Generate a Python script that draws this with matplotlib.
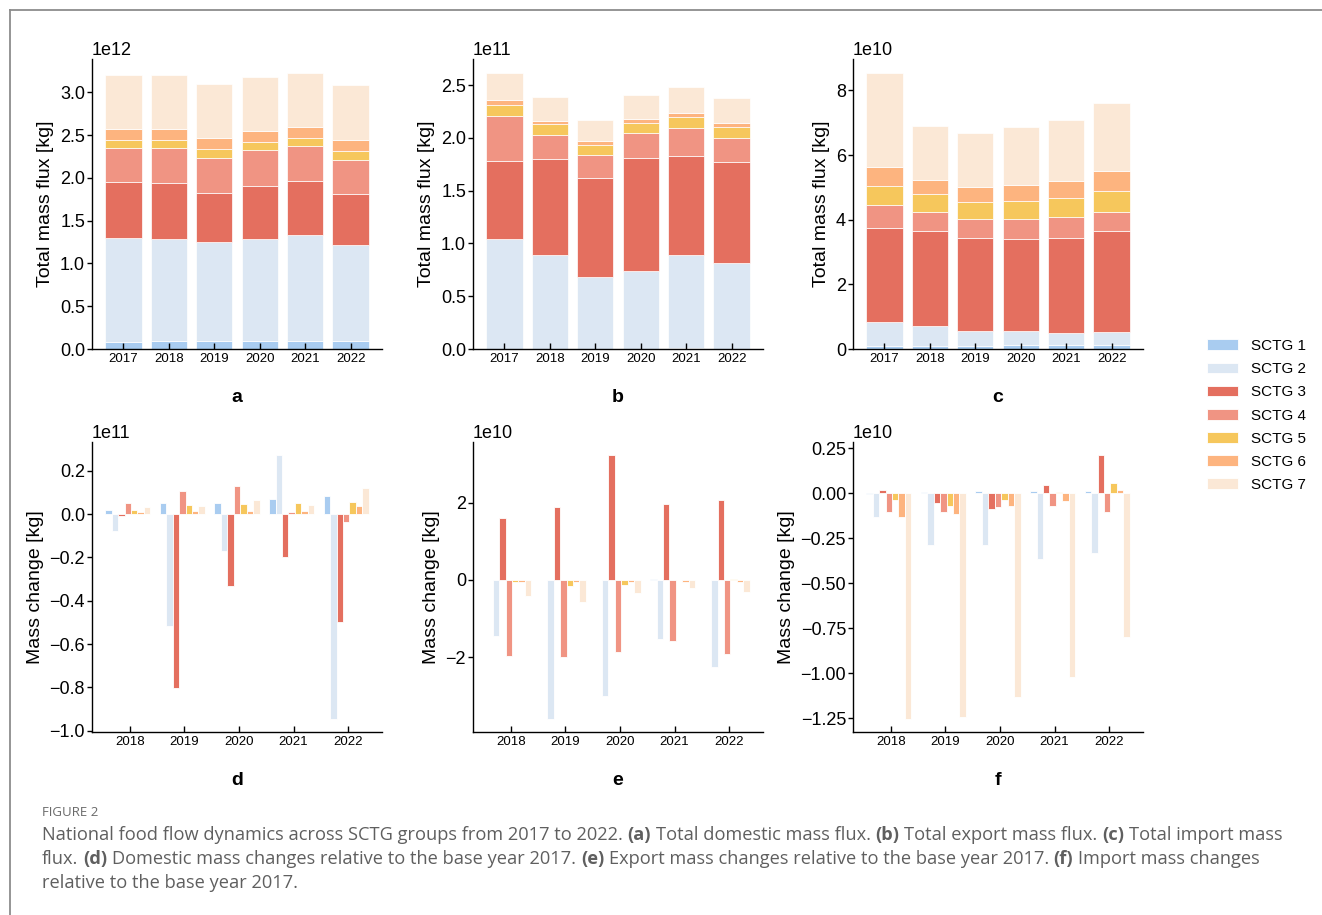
import numpy as np
import matplotlib
matplotlib.use("Agg")
import matplotlib.pyplot as plt
from matplotlib.ticker import MultipleLocator
from matplotlib.patches import Patch
from matplotlib.lines import Line2D

# ---------------- data ----------------
years_total = ["2017", "2018", "2019", "2020", "2021", "2022"]
years_change = ["2018", "2019", "2020", "2021", "2022"]
groups = ["SCTG 1", "SCTG 2", "SCTG 3", "SCTG 4", "SCTG 5", "SCTG 6", "SCTG 7"]
colors = ["#A9CCF0", "#DCE7F3", "#E46F5F", "#F09483", "#F6C75C", "#FDB47F", "#FBE8D6"]

# rows: SCTG 1..7, columns: years (units shown by scale)
domestic_total = [  # x 1e12 kg
    [0.086, 0.088, 0.091, 0.091, 0.093, 0.094],
    [1.211, 1.203, 1.159, 1.194, 1.238, 1.117],
    [0.651, 0.650, 0.571, 0.618, 0.631, 0.601],
    [0.405, 0.410, 0.416, 0.418, 0.406, 0.401],
    [0.094, 0.096, 0.098, 0.099, 0.099, 0.100],
    [0.128, 0.129, 0.130, 0.130, 0.130, 0.132],
    [0.628, 0.632, 0.632, 0.635, 0.632, 0.640],
]
export_total = [  # x 1e11 kg
    [0.003, 0.003, 0.003, 0.003, 0.005, 0.003],
    [1.035, 0.890, 0.676, 0.736, 0.883, 0.811],
    [0.748, 0.908, 0.937, 1.070, 0.944, 0.954],
    [0.423, 0.226, 0.225, 0.237, 0.266, 0.231],
    [0.105, 0.101, 0.090, 0.092, 0.104, 0.108],
    [0.041, 0.037, 0.037, 0.037, 0.037, 0.037],
    [0.262, 0.222, 0.206, 0.229, 0.240, 0.232],
]
import_total = [  # x 1e10 kg
    [0.103, 0.099, 0.107, 0.114, 0.114, 0.114],
    [0.743, 0.610, 0.456, 0.456, 0.376, 0.412],
    [2.911, 2.928, 2.857, 2.824, 2.957, 3.122],
    [0.702, 0.595, 0.596, 0.624, 0.628, 0.596],
    [0.589, 0.552, 0.520, 0.552, 0.593, 0.646],
    [0.588, 0.458, 0.473, 0.516, 0.544, 0.605],
    [2.911, 1.657, 1.668, 1.780, 1.889, 2.109],
]
domestic_change = [  # x 1e11 kg
    [0.020, 0.052, 0.051, 0.072, 0.082],
    [-0.077, -0.518, -0.172, 0.272, -0.945],
    [-0.011, -0.803, -0.334, -0.200, -0.500],
    [0.052, 0.106, 0.132, 0.008, -0.038],
    [0.017, 0.040, 0.048, 0.051, 0.057],
    [0.009, 0.015, 0.015, 0.015, 0.038],
    [0.035, 0.038, 0.066, 0.043, 0.120],
]
export_change = [  # x 1e10 kg
    [0.005, 0.005, 0.005, 0.020, 0.005],
    [-1.448, -3.586, -2.991, -1.517, -2.240],
    [1.603, 1.888, 3.224, 1.957, 2.060],
    [-1.966, -1.983, -1.862, -1.569, -1.922],
    [-0.040, -0.147, -0.130, -0.010, 0.026],
    [-0.040, -0.040, -0.040, -0.040, -0.040],
    [-0.405, -0.560, -0.328, -0.216, -0.300],
]
import_change = [  # x 1e10 kg
    [-0.004, 0.004, 0.011, 0.011, 0.011],
    [-0.133, -0.287, -0.287, -0.367, -0.331],
    [0.017, -0.054, -0.087, 0.046, 0.211],
    [-0.107, -0.106, -0.078, -0.074, -0.106],
    [-0.037, -0.069, -0.037, 0.004, 0.057],
    [-0.130, -0.115, -0.072, -0.044, 0.017],
    [-1.254, -1.243, -1.131, -1.022, -0.802],
]

# ---------------- style ----------------
plt.rcParams["font.family"] = ["Liberation Sans", "DejaVu Sans"]
W, H = 1322, 915
fig = plt.figure(figsize=(W / 100, H / 100), dpi=100)


def rect(left, top, right, bottom):
    return [left / W, 1 - bottom / H, (right - left) / W, (bottom - top) / H]


lefts = [92, 473, 853]
top_axes = [fig.add_axes(rect(l, 59, l + 290, 349)) for l in lefts]
bot_axes = [fig.add_axes(rect(l, 442, l + 290, 732)) for l in lefts]


def style(ax, ylabel, letter):
    for s in ["top", "right"]:
        ax.spines[s].set_visible(False)
    for s in ["left", "bottom"]:
        ax.spines[s].set_linewidth(1.0)
    ax.tick_params(axis="x", direction="in", length=4, width=1, labelsize=9.5, pad=3)
    ax.tick_params(axis="y", direction="out", length=3.5, width=1, labelsize=13, pad=1.5)
    ax.yaxis.get_offset_text().set_fontsize(13)
    ax.set_ylabel(ylabel, fontsize=14)
    ax.text(0.5, -0.166, letter, transform=ax.transAxes, ha="center", va="center",
            fontsize=14, fontweight="bold")


def stacked(ax, data, scale, years):
    x = np.arange(len(years))
    data = np.array(data) * scale
    bottom = np.zeros(len(years))
    for i, row in enumerate(data):
        ax.bar(x, row, bottom=bottom, width=0.8, color=colors[i],
               edgecolor="white", linewidth=0.5)
        bottom += row
    ax.set_xticks(x)
    ax.set_xticklabels(years)


def grouped(ax, data, scale, years):
    x = np.arange(len(years))
    data = np.array(data) * scale
    w = 0.118
    for i, row in enumerate(data):
        ax.bar(x + (i - 3) * w - 0.036, row, width=w, color=colors[i],
               edgecolor="white", linewidth=0.6)
    ax.set_xticks(x)
    ax.set_xticklabels(years)


stacked(top_axes[0], domestic_total, 1e12, years_total)
stacked(top_axes[1], export_total, 1e11, years_total)
stacked(top_axes[2], import_total, 1e10, years_total)
grouped(bot_axes[0], domestic_change, 1e11, years_change)
grouped(bot_axes[1], export_change, 1e10, years_change)
grouped(bot_axes[2], import_change, 1e10, years_change)

top_axes[0].yaxis.set_major_locator(MultipleLocator(0.5e12))
top_axes[1].yaxis.set_major_locator(MultipleLocator(0.5e11))
top_axes[2].yaxis.set_major_locator(MultipleLocator(2e10))
bot_axes[0].yaxis.set_major_locator(MultipleLocator(0.2e11))
bot_axes[1].yaxis.set_major_locator(MultipleLocator(2e10))
bot_axes[2].yaxis.set_major_locator(MultipleLocator(0.25e10))

for ax, let in zip(top_axes, "abc"):
    style(ax, "Total mass flux [kg]", let)
for ax, let in zip(bot_axes, "def"):
    style(ax, "Mass change [kg]", let)

# legend
handles = [Patch(facecolor=c, edgecolor="white", linewidth=0.6) for c in colors]
fig.legend(handles, groups, loc="center left", bbox_to_anchor=(1207 / W, 1 - 415.6 / H),
           frameon=False, fontsize=11, handlelength=2.0, handleheight=0.7,
           labelspacing=0.6, handletextpad=0.9, borderpad=0, borderaxespad=0)

# frame lines
fig.add_artist(Line2D([10 / W, 1], [1 - 10 / H, 1 - 10 / H], color="#8c8c8c", lw=1.3,
                      transform=fig.transFigure))
fig.add_artist(Line2D([10 / W, 10 / W], [0, 1 - 10 / H], color="#8c8c8c", lw=1.3,
                      transform=fig.transFigure))

# caption
cap_font = ["Open Sans", "DejaVu Sans"]
cap_color = "#5f5f5f"
renderer = fig.canvas.get_renderer()
fig.text(42 / W, 1 - 816 / H, "FIGURE 2", fontsize=9.5, color="#6a6a6a", family=cap_font,
         va="baseline", ha="left")

lines = [
    [("National food flow dynamics across SCTG groups from 2017 to 2022.", False),
     ("(a)", True), ("Total domestic mass flux.", False), ("(b)", True),
     ("Total export mass flux.", False), ("(c)", True), ("Total import mass", False)],
    [("flux.", False), ("(d)", True),
     ("Domestic mass changes relative to the base year 2017.", False), ("(e)", True),
     ("Export mass changes relative to the base year 2017.", False), ("(f)", True),
     ("Import mass changes", False)],
    [("relative to the base year 2017.", False)],
]
baselines = [840, 864, 888]


def measure(txt, size, bold):
    t = fig.text(0, 0, txt, fontsize=size, family=cap_font,
                 fontweight="bold" if bold else "normal")
    w = t.get_window_extent(renderer).width
    t.remove()
    return w


def line_width(segs, size):
    sp = measure("x x", size, False) - measure("xx", size, False)
    return sum(measure(s, size, b) for s, b in segs) + sp * (len(segs) - 1), sp


base_size = 12.0
w0, _ = line_width(lines[0], base_size)
cap_size = base_size * (1281 - 42) / w0

for segs, yb in zip(lines, baselines):
    _, sp = line_width(segs, cap_size)
    x = 42.0
    for s, b in segs:
        t = fig.text(x / W, 1 - yb / H, s, fontsize=cap_size, family=cap_font, color=cap_color,
                     fontweight="bold" if b else "normal", va="baseline", ha="left")
        x += t.get_window_extent(renderer).width + sp

fig.savefig("out.png", dpi=100)
